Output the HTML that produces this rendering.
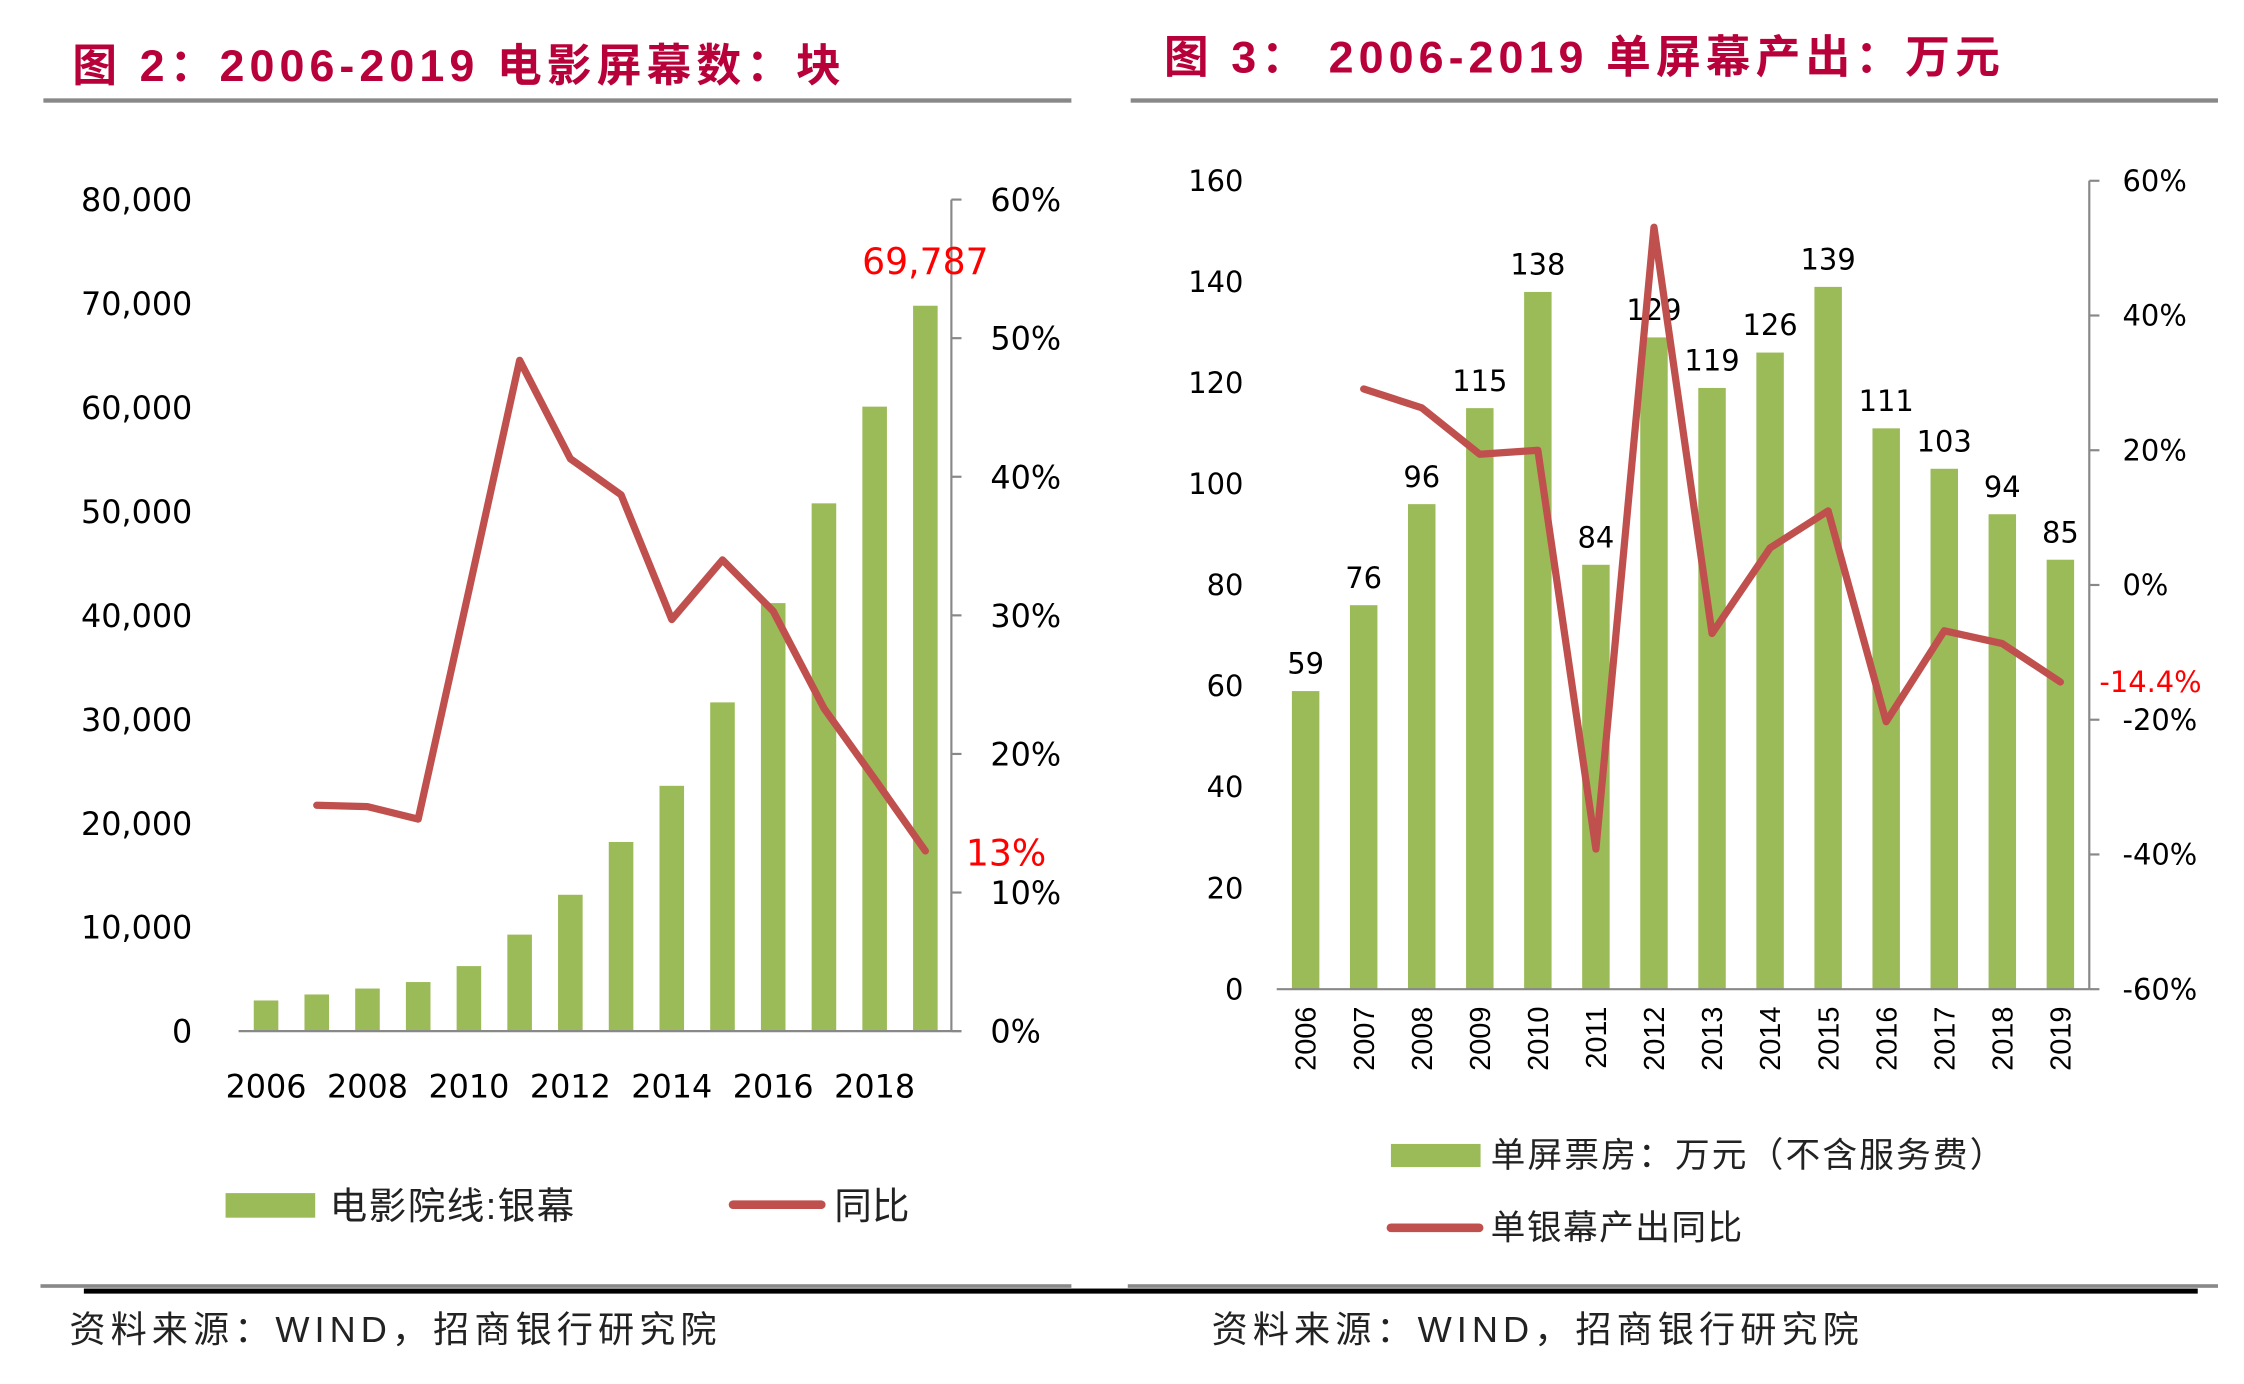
<!DOCTYPE html>
<html><head><meta charset="utf-8"><style>
html,body{margin:0;padding:0;background:#fff;width:2244px;height:1384px;overflow:hidden}
svg{display:block}
text{font-family:"DejaVu Sans","Liberation Sans","Noto Sans CJK SC",sans-serif}
.cjk{font-family:"Liberation Sans","Noto Sans CJK SC",sans-serif}
</style></head><body>
<svg id="root" width="2244" height="1384" viewBox="0 0 1552 957" preserveAspectRatio="none" xmlns="http://www.w3.org/2000/svg">
<g id="c1"></g>
<g id="c2"></g>
</svg>
<script>
// ---- Chart 1 data ----
const years1 = [2006,2007,2008,2009,2010,2011,2012,2013,2014,2015,2016,2017,2018,2019];
const screens = [2950,3527,4097,4723,6256,9286,13118,18195,23600,31627,41179,50776,60079,69787];
const screensYoy = [null,16.3,16.2,15.3,31.8,48.4,41.3,38.7,29.7,34.0,30.3,23.3,18.2,13.0];
const leftTicks1 = [0,10000,20000,30000,40000,50000,60000,70000,80000];
const rightTicks1 = [0,10,20,30,40,50,60];
// ---- Chart 2 data ----
const years2 = [2006,2007,2008,2009,2010,2011,2012,2013,2014,2015,2016,2017,2018,2019];
const perScreen = [59,76,96,115,138,84,129,119,126,139,111,103,94,85];
const perScreenYoy = [null,29.1,26.3,19.4,20.0,-39.2,53.1,-7.2,5.5,11.0,-20.3,-6.8,-8.7,-14.4];
const leftTicks2 = [0,20,40,60,80,100,120,140,160];
const rightTicks2 = [-60,-40,-20,0,20,40,60];

const NS='http://www.w3.org/2000/svg';
function mk(parent,tag,attrs,txt){const e=document.createElementNS(NS,tag);for(const k in attrs)e.setAttribute(k,attrs[k]);if(txt!==undefined)e.textContent=txt;parent.appendChild(e);return e;}
const fmt=n=>n.toLocaleString('en-US');
const GREEN='#9bbb59', RED='#c0504d', TITLE='#b8003a';

// ===== Chart 1 =====
(function(){
const g=document.getElementById('c1');
let t=mk(g,'text',{x:50,y:56,'font-size':31,'font-weight':'bold',fill:TITLE,class:'cjk','letter-spacing':3.5},'图 2：2006-2019 电影屏幕数：块');

let r=mk(g,'rect',{x:30,y:68,width:711,height:3,fill:'#888'});

const top=138,bot=713,x0=184,step=(640-184)/13,bw=17;
const yL=v=>bot-(v/80000)*(bot-top);
const yR=v=>bot-(v/60)*(bot-top);
const xs=i=>x0+i*step;
leftTicks1.forEach(v=>{const e=mk(g,'text',{x:133,y:yL(v)+8,'font-size':22,'text-anchor':'end',fill:'#000'},fmt(v));
});
rightTicks1.forEach(v=>{const e=mk(g,'text',{x:685,y:yR(v)+8,'font-size':22,fill:'#000'},v+'%');

mk(g,'line',{x1:658,x2:665,y1:yR(v),y2:yR(v),stroke:'#888','stroke-width':1.5});});
let ax=mk(g,'line',{x1:658,x2:658,y1:top,y2:bot,stroke:'#888','stroke-width':1.5});

screens.forEach((v,i)=>{const b=mk(g,'rect',{x:xs(i)-bw/2,y:yL(v),width:bw,height:bot-yL(v),fill:GREEN});
});
let xa=mk(g,'line',{x1:165,x2:665,y1:bot,y2:bot,stroke:'#888','stroke-width':1.5});

years1.forEach((y,i)=>{if(i%2===0){const e=mk(g,'text',{x:xs(i),y:759,'font-size':22,'text-anchor':'middle',fill:'#000'},String(y));
}});
const pts=screensYoy.map((v,i)=>v===null?null:xs(i)+','+yR(v)).filter(Boolean).join(' ');
let pl=mk(g,'polyline',{points:pts,fill:'none',stroke:RED,'stroke-width':5,'stroke-linejoin':'round','stroke-linecap':'round'});

const last=screens.length-1;
let l1=mk(g,'text',{x:xs(last),y:yL(screens[last])-22,'font-size':25,'text-anchor':'middle',fill:'#ff0000'},fmt(screens[last]));

let l2=mk(g,'text',{x:668,y:yR(screensYoy[last])+10,'font-size':25,fill:'#ff0000'},Math.round(screensYoy[last])+'%');

let lg1=mk(g,'rect',{x:156,y:825,width:62,height:17,fill:GREEN});

let lt1=mk(g,'text',{x:228,y:843,'font-size':26,fill:'#222',class:'cjk','letter-spacing':1},'电影院线:银幕');

let lg2=mk(g,'line',{x1:507,x2:568,y1:833,y2:833,stroke:RED,'stroke-width':6,'stroke-linecap':'round'});

let lt2=mk(g,'text',{x:577,y:843,'font-size':26,fill:'#222',class:'cjk'},'同比');

let s=mk(g,'text',{x:48,y:928,'font-size':25,fill:'#222',class:'cjk','letter-spacing':3.5},'资料来源：WIND，招商银行研究院');

})();

// ===== Chart 2 =====
(function(){
const g=document.getElementById('c2');
let t=mk(g,'text',{x:805,y:50,'font-size':31,'font-weight':'bold',fill:TITLE,class:'cjk','letter-spacing':3.5},'图 3：  2006-2019 单屏幕产出：万元');

let r=mk(g,'rect',{x:782,y:68,width:752,height:3,fill:'#888'});

const top=125,bot=684,x0=903,step=(1425-903)/13,bw=19;
const yL=v=>bot-(v/160)*(bot-top);
const yR=v=>bot-((v+60)/120)*(bot-top);
const xs=i=>x0+i*step;
leftTicks2.forEach(v=>{const e=mk(g,'text',{x:860,y:yL(v)+7,'font-size':20,'text-anchor':'end',fill:'#000'},String(v));
});
rightTicks2.forEach(v=>{const e=mk(g,'text',{x:1468,y:yR(v)+7,'font-size':20,fill:'#000'},v+'%');

mk(g,'line',{x1:1445,x2:1452,y1:yR(v),y2:yR(v),stroke:'#888','stroke-width':1.5});});
let ax=mk(g,'line',{x1:1445,x2:1445,y1:top,y2:bot,stroke:'#888','stroke-width':1.5});

perScreen.forEach((v,i)=>{const b=mk(g,'rect',{x:xs(i)-bw/2,y:yL(v),width:bw,height:bot-yL(v),fill:GREEN});

const l=mk(g,'text',{x:xs(i),y:yL(v)-12,'font-size':20,'text-anchor':'middle',fill:'#000'},String(v));
});
let xa=mk(g,'line',{x1:883,x2:1445,y1:bot,y2:bot,stroke:'#888','stroke-width':1.5});

years2.forEach((y,i)=>{const e=mk(g,'text',{x:0,y:0,'font-size':20,'text-anchor':'end',fill:'#000',transform:'translate('+(xs(i)+7)+',696) rotate(-90)',class:'cjk'},String(y));
});
const pts=perScreenYoy.map((v,i)=>v===null?null:xs(i)+','+yR(v)).filter(Boolean).join(' ');
let pl=mk(g,'polyline',{points:pts,fill:'none',stroke:RED,'stroke-width':5,'stroke-linejoin':'round','stroke-linecap':'round'});

const last=perScreenYoy.length-1;
let l2=mk(g,'text',{x:1452,y:yR(perScreenYoy[last])+7,'font-size':20,fill:'#ff0000'},perScreenYoy[last].toFixed(1)+'%');

let lg1=mk(g,'rect',{x:962,y:791,width:62,height:16,fill:GREEN});

let lt1=mk(g,'text',{x:1031,y:807,'font-size':24,fill:'#222',class:'cjk','letter-spacing':1.5},'单屏票房：万元（不含服务费）');

let lg2=mk(g,'line',{x1:962,x2:1023,y1:849,y2:849,stroke:RED,'stroke-width':6,'stroke-linecap':'round'});

let lt2=mk(g,'text',{x:1031,y:857,'font-size':24,fill:'#222',class:'cjk','letter-spacing':1},'单银幕产出同比');

let s=mk(g,'text',{x:838,y:928,'font-size':25,fill:'#222',class:'cjk','letter-spacing':3.5},'资料来源：WIND，招商银行研究院');

})();

// bottom rules
(function(){
const root=document.getElementById('root');
let a=mk(root,'rect',{x:28,y:888,width:713,height:2.5,fill:'#888'});

let b=mk(root,'rect',{x:780,y:888,width:754,height:2.5,fill:'#888'});

let c=mk(root,'rect',{x:58,y:891,width:1462,height:3.5,fill:'#000'});

})();
</script>
</body></html>
